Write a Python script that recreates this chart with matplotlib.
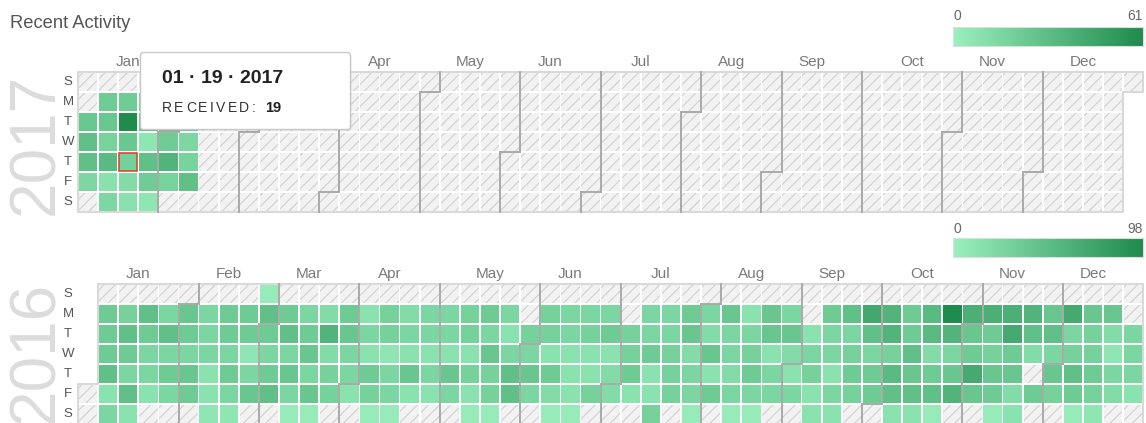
import datetime as dt
import numpy as np
import matplotlib
matplotlib.use('Agg')
import matplotlib.pyplot as plt
from matplotlib.patches import Rectangle, FancyBboxPatch, Polygon
from matplotlib.colors import LinearSegmentedColormap, Normalize

plt.rcParams['font.family'] = ['Liberation Sans', 'DejaVu Sans']
plt.rcParams['hatch.linewidth'] = 0.8

N = None

months = ['Jan', 'Feb', 'Mar', 'Apr', 'May', 'Jun',
          'Jul', 'Aug', 'Sep', 'Oct', 'Nov', 'Dec']
day_labels = ['S', 'M', 'T', 'W', 'T', 'F', 'S']

# 2017: counts per weekday row, one entry per week column (only Jan/early Feb)
sun_2017 = [N, N, N, N, N, N]
mon_2017 = [N, 22, 22, 20, 18, 20]
tue_2017 = [25, 25, 61, 24, 22, 20]
wed_2017 = [29, 18, 25, 6, 22, 15]
thu_2017 = [29, 32, 19, 29, 36, 18]
fri_2017 = [15, 9, 12, 22, 18, 29]
sat_2017 = [N, 15, 9, 6, N, N]

# 2016: counts per weekday row, 53 week columns
sun_2016 = [N, N, N, N, N, N, N, N, N, 5,
            N, N, N, N, N, N, N, N, N, N,
            N, N, N, N, N, N, N, N, N, N,
            N, N, N, N, N, N, N, N, N, N,
            N, N, N, N, N, N, N, N, N, N,
            N, N, N]
mon_2016 = [N, 36, 30, 47, 25, 41, 25, 36, 36, 47,
            36, 25, 20, 36, 14, 30, 20, 25, 25, 30,
            36, 25, N, 30, 25, 25, 25, N, 25, 25,
            36, 25, 41, 14, 41, 25, N, 36, 47, 70,
            58, 36, 52, 98, 63, 63, 63, 58, 41, 68,
            41, 41, N]
tue_2016 = [N, 36, 47, 36, 47, 36, 25, 36, 36, 36,
            47, 36, 58, 41, 25, 30, 25, 25, 25, 30,
            25, 14, 30, 30, 25, 30, 36, 30, 25, 25,
            41, 20, 25, 25, 41, 41, 14, 25, 25, 47,
            58, 36, 52, 58, 41, 36, 68, 47, 47, 25,
            30, 20, 25]
wed_2016 = [N, 36, 36, 25, 25, 25, 25, 25, 10, 25,
            25, 41, 20, 25, 14, 10, 14, 14, 14, 14,
            41, 25, 25, 14, 14, 14, 14, 30, 36, 30,
            20, 41, 25, 30, 14, 20, 25, 25, 30, 25,
            30, 47, 20, 25, 36, 30, 36, 20, 25, 30,
            30, 10, 25]
thu_2016 = [N, 47, 25, 25, 36, 41, 14, 36, 25, 36,
            41, 25, 30, 25, 36, 25, 41, 25, 41, 30,
            30, 47, 41, 36, 14, 14, 20, 36, 14, 30,
            25, 14, 20, 36, 25, 14, 30, 14, 36, 36,
            52, 41, 36, 41, 68, 41, 41, N, 41, 47,
            36, 25, 25]
fri_2016 = [N, 14, 47, 14, 25, 36, 14, 25, 41, 47,
            25, 41, 30, 14, 30, 25, 14, 14, 25, 14,
            30, 47, 25, 20, 14, 30, 20, 14, 14, 30,
            25, 36, 25, 25, 25, 25, 14, 25, 30, 36,
            47, 47, 47, 58, 41, 36, 20, 36, 30, 36,
            30, 20, 14]
sat_2016 = [N, 25, 14, N, N, N, 10, 10, N, N,
            5, 5, N, N, 5, 5, N, N, N, 5,
            5, N, N, 5, 5, N, N, N, 30, N,
            5, N, 5, 5, N, N, 14, 14, N, N,
            14, 14, 5, N, N, 5, 14, N, N, 5,
            10, N, N]

max_2017 = 61
max_2016 = 98
tip_date = '01 · 19 · 2017'
tip_label = 'RECEIVED:'
tip_value = '19'

# layout (pixels)
W, H = 1146, 423
CW, CH = 20.1, 20.0
LEFT = 78

greens = LinearSegmentedColormap.from_list('greens', ['#9cf0be', '#1f8b4c'])
hatch_face = '#f2f2f2'
hatch_line = '#d0d0d0'
month_line = '#a9a9a9'
border = '#d2d2d2'

fig = plt.figure(figsize=(W / 100, H / 100), dpi=100)


def draw_year(year, rows, vmax, top, highlight=None):
    ax = fig.add_axes([LEFT / W, 1 - (top + 7 * CH) / H, 53 * CW / W, 7 * CH / H])
    ax.set_xlim(0, 53)
    ax.set_ylim(7, 0)
    ax.axis('off')
    norm = Normalize(0, vmax)
    start = dt.date(year, 1, 1)
    offset = (start.weekday() + 1) % 7
    ndays = (dt.date(year + 1, 1, 1) - start).days

    for i in range(ndays):
        c, r = divmod(i + offset, 7)
        ax.add_patch(Rectangle((c + 0.04, r + 0.05), 0.92, 0.9, facecolor=hatch_face,
                               edgecolor=hatch_line, hatch='///', linewidth=0))
        row = rows[r]
        v = row[c] if c < len(row) else None
        if v is not None:
            ax.add_patch(Rectangle((c + 0.04, r + 0.05), 0.92, 0.9,
                                   facecolor=greens(norm(v)), linewidth=0))

    # outline of the year
    c0, r0 = divmod(offset, 7)
    c1, r1 = divmod(ndays - 1 + offset, 7)
    pts = [(c0, 7), (c0, r0)]
    if r0 > 0:
        pts += [(c0 + 1, r0), (c0 + 1, 0)]
    pts += [(c1 + 1, 0)]
    if r1 < 6:
        pts += [(c1 + 1, r1 + 1), (c1, r1 + 1), (c1, 7)]
    else:
        pts += [(c1 + 1, 7)]
    ax.add_patch(Polygon(pts, closed=True, fill=False, edgecolor=border,
                         linewidth=1.2, clip_on=False))

    # month separators + labels
    for m in range(1, 13):
        first = (dt.date(year, m, 1) - start).days + offset
        nxt = dt.date(year + (m == 12), m % 12 + 1, 1)
        last = (nxt - start).days - 1 + offset
        fc, fr = divmod(first, 7)
        lc = last // 7
        ax.text((fc + lc + 1) / 2, -0.32, months[m - 1], ha='center', va='baseline',
                fontsize=11, color='#7a7a7a')
        if m == 1:
            continue
        if fr == 0:
            xs, ys = [fc, fc], [0, 7]
        else:
            xs, ys = [fc + 1, fc + 1, fc, fc], [0, fr, fr, 7]
        ax.plot(xs, ys, color=month_line, linewidth=1.4, clip_on=False,
                solid_joinstyle='miter')

    for r, lab in enumerate(day_labels):
        ax.text(-0.5, r + 0.5, lab, ha='center', va='center', fontsize=9.5, color='#555555')

    if highlight is not None:
        d = (dt.date(*highlight) - start).days + offset
        c, r = divmod(d, 7)
        ax.add_patch(Rectangle((c + 0.04, r + 0.05), 0.92, 0.9, fill=False,
                               edgecolor='#e0453a', linewidth=1.2))
    return ax


def draw_colorbar(top, vmax):
    cax = fig.add_axes([953 / W, 1 - (top + 19) / H, 190 / W, 19 / H])
    cax.imshow(np.linspace(0, 1, 256)[None, :], cmap=greens, aspect='auto')
    cax.set_xticks([])
    cax.set_yticks([])
    for s in cax.spines.values():
        s.set_color('#dddddd')
    return cax


draw_year(2017, [sun_2017, mon_2017, tue_2017, wed_2017, thu_2017, fri_2017, sat_2017],
          max_2017, 72, highlight=(2017, 1, 19))
draw_year(2016, [sun_2016, mon_2016, tue_2016, wed_2016, thu_2016, fri_2016, sat_2016],
          max_2016, 284)
draw_colorbar(27, max_2017)
draw_colorbar(238, max_2016)

# overlay in pixel coordinates
ov = fig.add_axes([0, 0, 1, 1])
ov.set_xlim(0, W)
ov.set_ylim(H, 0)
ov.axis('off')
ov.set_zorder(10)
ov.patch.set_alpha(0)

ov.text(10, 28, 'Recent Activity', fontsize=13.2, color='#555555', va='baseline')

ov.text(53, 144, '2017', rotation=90, rotation_mode='anchor', ha='center', va='baseline',
        fontsize=46, color='#dcdcdc')
ov.text(53, 352, '2016', rotation=90, rotation_mode='anchor', ha='center', va='baseline',
        fontsize=46, color='#dcdcdc')

ov.text(953, 20, '0', fontsize=10, color='#666666', ha='left', va='baseline')
ov.text(1143, 20, str(max_2017), fontsize=10, color='#666666', ha='right', va='baseline')
ov.text(953, 233, '0', fontsize=10, color='#666666', ha='left', va='baseline')
ov.text(1143, 233, str(max_2016), fontsize=10, color='#666666', ha='right', va='baseline')

# tooltip
ov.add_patch(FancyBboxPatch((141.5, 54.5), 210, 77, boxstyle='round,pad=0,rounding_size=3',
                            facecolor=(0, 0, 0, 0.05), linewidth=0))
ov.add_patch(FancyBboxPatch((140.5, 52.5), 210, 77, boxstyle='round,pad=0,rounding_size=3',
                            facecolor='white', edgecolor='#c8c8c8', linewidth=1))
ov.text(162, 83, tip_date, fontsize=14, fontweight='bold', color='#222222', va='baseline')

renderer = fig.canvas.get_renderer()
x = 162
for ch in tip_label:
    t = ov.text(x, 111.5, ch, fontsize=10, color='#333333', va='baseline')
    x += t.get_window_extent(renderer).width + 2.3
ov.text(x + 8, 111.5, tip_value, fontsize=10.5, fontweight='bold', color='#222222',
        va='baseline')

fig.savefig('out.png', dpi=100)
